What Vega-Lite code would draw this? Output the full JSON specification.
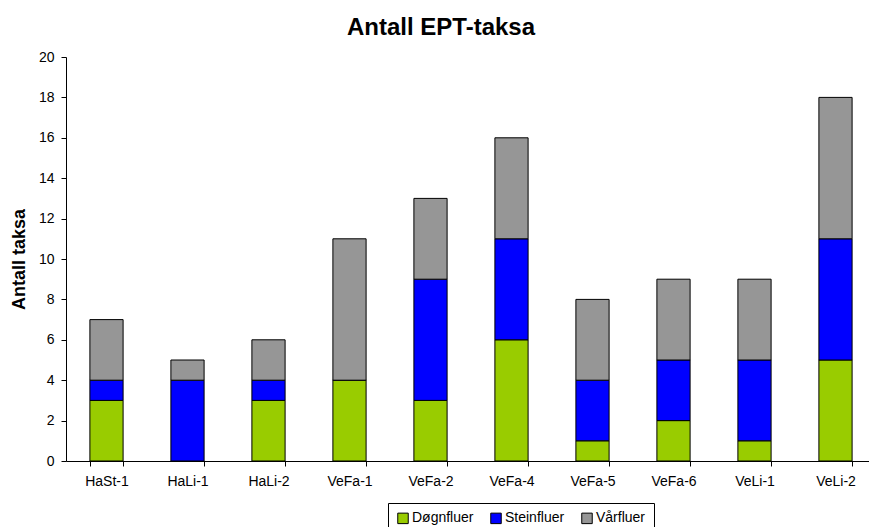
{
  "$schema": "https://vega.github.io/schema/vega-lite/v6.json",
  "width": 810,
  "height": 404,
  "autosize": {"type": "none"},
  "padding": {"left": 66, "top": 57, "right": 0, "bottom": 66},
  "background": "white",
  "title": {
    "text": "Antall EPT-taksa",
    "font": "Liberation Sans",
    "fontSize": 24,
    "fontWeight": "bold",
    "color": "black",
    "anchor": "middle",
    "dx": -30,
    "offset": 10
  },
  "config": {
    "view": {"stroke": null},
    "font": "Liberation Sans"
  },
  "data": {
    "values": [
      {"sted": "HaSt-1", "gruppe": "Døgnfluer", "ord": 1, "antall": 3},
      {"sted": "HaSt-1", "gruppe": "Steinfluer", "ord": 2, "antall": 1},
      {"sted": "HaSt-1", "gruppe": "Vårfluer", "ord": 3, "antall": 3},
      {"sted": "HaLi-1", "gruppe": "Døgnfluer", "ord": 1, "antall": 0},
      {"sted": "HaLi-1", "gruppe": "Steinfluer", "ord": 2, "antall": 4},
      {"sted": "HaLi-1", "gruppe": "Vårfluer", "ord": 3, "antall": 1},
      {"sted": "HaLi-2", "gruppe": "Døgnfluer", "ord": 1, "antall": 3},
      {"sted": "HaLi-2", "gruppe": "Steinfluer", "ord": 2, "antall": 1},
      {"sted": "HaLi-2", "gruppe": "Vårfluer", "ord": 3, "antall": 2},
      {"sted": "VeFa-1", "gruppe": "Døgnfluer", "ord": 1, "antall": 4},
      {"sted": "VeFa-1", "gruppe": "Steinfluer", "ord": 2, "antall": 0},
      {"sted": "VeFa-1", "gruppe": "Vårfluer", "ord": 3, "antall": 7},
      {"sted": "VeFa-2", "gruppe": "Døgnfluer", "ord": 1, "antall": 3},
      {"sted": "VeFa-2", "gruppe": "Steinfluer", "ord": 2, "antall": 6},
      {"sted": "VeFa-2", "gruppe": "Vårfluer", "ord": 3, "antall": 4},
      {"sted": "VeFa-4", "gruppe": "Døgnfluer", "ord": 1, "antall": 6},
      {"sted": "VeFa-4", "gruppe": "Steinfluer", "ord": 2, "antall": 5},
      {"sted": "VeFa-4", "gruppe": "Vårfluer", "ord": 3, "antall": 5},
      {"sted": "VeFa-5", "gruppe": "Døgnfluer", "ord": 1, "antall": 1},
      {"sted": "VeFa-5", "gruppe": "Steinfluer", "ord": 2, "antall": 3},
      {"sted": "VeFa-5", "gruppe": "Vårfluer", "ord": 3, "antall": 4},
      {"sted": "VeFa-6", "gruppe": "Døgnfluer", "ord": 1, "antall": 2},
      {"sted": "VeFa-6", "gruppe": "Steinfluer", "ord": 2, "antall": 3},
      {"sted": "VeFa-6", "gruppe": "Vårfluer", "ord": 3, "antall": 4},
      {"sted": "VeLi-1", "gruppe": "Døgnfluer", "ord": 1, "antall": 1},
      {"sted": "VeLi-1", "gruppe": "Steinfluer", "ord": 2, "antall": 4},
      {"sted": "VeLi-1", "gruppe": "Vårfluer", "ord": 3, "antall": 4},
      {"sted": "VeLi-2", "gruppe": "Døgnfluer", "ord": 1, "antall": 5},
      {"sted": "VeLi-2", "gruppe": "Steinfluer", "ord": 2, "antall": 6},
      {"sted": "VeLi-2", "gruppe": "Vårfluer", "ord": 3, "antall": 7}
    ]
  },
  "mark": {"type": "bar", "stroke": "black", "strokeWidth": 1},
  "encoding": {
    "x": {
      "field": "sted",
      "type": "nominal",
      "sort": null,
      "scale": {"paddingInner": 0.59, "paddingOuter": 0.295},
      "axis": {
        "title": null,
        "labelAngle": 0,
        "labelFont": "Liberation Sans",
        "labelFontSize": 14,
        "labelColor": "black",
        "labelPadding": 8,
        "domainColor": "black",
        "tickColor": "black",
        "tickSize": 5,
        "tickBand": "extent",
        "ticks": true
      }
    },
    "y": {
      "field": "antall",
      "type": "quantitative",
      "stack": "zero",
      "scale": {"domain": [0, 20], "nice": false},
      "axis": {
        "title": "Antall taksa",
        "titleFont": "Liberation Sans",
        "titleFontSize": 18,
        "titleFontWeight": "bold",
        "titleColor": "black",
        "titlePadding": 10,
        "values": [0, 2, 4, 6, 8, 10, 12, 14, 16, 18, 20],
        "grid": false,
        "labelFont": "Liberation Sans",
        "labelFontSize": 14,
        "labelColor": "black",
        "labelPadding": 7,
        "domainColor": "black",
        "tickColor": "black",
        "tickSize": 5
      }
    },
    "color": {
      "field": "gruppe",
      "type": "nominal",
      "scale": {
        "domain": ["Døgnfluer", "Steinfluer", "Vårfluer"],
        "range": ["#99CC00", "#0000FF", "#969696"]
      },
      "legend": {
        "title": null,
        "orient": "none",
        "direction": "horizontal",
        "legendX": 322,
        "legendY": 446,
        "symbolType": "square",
        "symbolSize": 110,
        "symbolStrokeColor": "black",
        "symbolStrokeWidth": 1,
        "labelFont": "Liberation Sans",
        "labelFontSize": 14,
        "labelColor": "black",
        "labelOffset": 2,
        "columnPadding": 14,
        "strokeColor": "black",
        "padding": 8,
        "fillColor": "white"
      }
    },
    "order": {"field": "ord", "type": "quantitative"}
  }
}
